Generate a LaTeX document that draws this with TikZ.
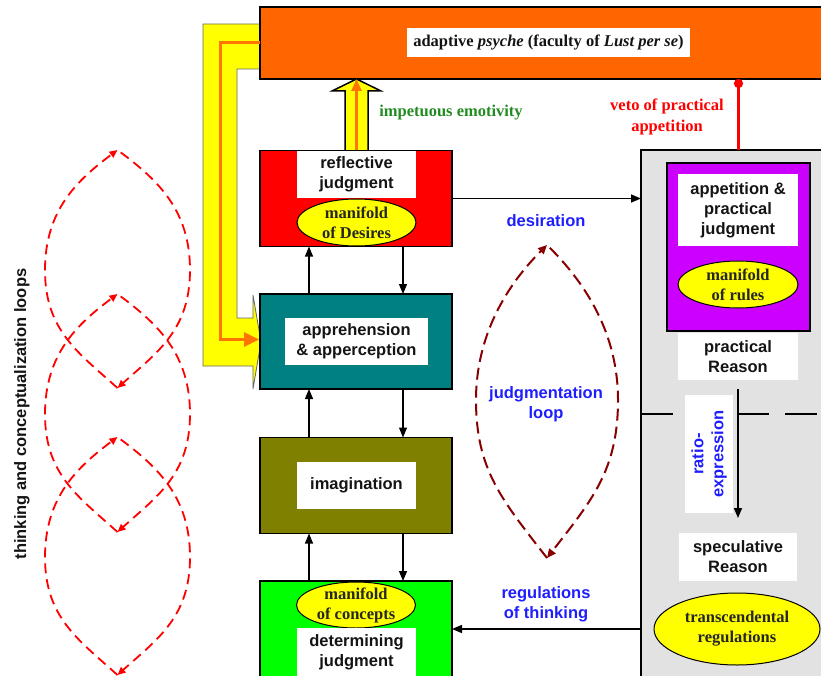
\documentclass[tikz,border=0pt]{standalone}
\usepackage{fontspec}
\setmainfont{Liberation Serif}
\setsansfont{Liberation Sans}
\usetikzlibrary{arrows.meta,shapes.geometric}
\definecolor{cOrange}{RGB}{255,102,0}
\definecolor{cYellow}{RGB}{255,255,0}
\definecolor{cRed}{RGB}{255,0,0}
\definecolor{cTeal}{RGB}{0,128,128}
\definecolor{cOlive}{RGB}{128,128,0}
\definecolor{cGreen}{RGB}{0,255,0}
\definecolor{cPurple}{RGB}{204,0,255}
\definecolor{cGray}{RGB}{226,226,226}
\definecolor{cBlue}{RGB}{30,30,255}
\definecolor{cDark}{RGB}{136,0,0}
\definecolor{cGreenTxt}{RGB}{34,139,34}
\definecolor{cTxt}{RGB}{20,20,20}
\begin{document}
\begin{tikzpicture}[x=1pt,y=-1pt,
  every node/.style={inner sep=0pt,outer sep=0pt},
  sq/.style={rectangle,draw=black,line width=1.5pt},
  lbl/.style={rectangle,fill=white,align=center,text=cTxt,
    font=\sffamily\bfseries\fontsize{16.5}{20}\selectfont},
  ell/.style={ellipse,draw=black,line width=1pt,fill=cYellow,align=center,
    inner xsep=0pt,inner ysep=-6pt,text=black!85,
    font=\rmfamily\bfseries\fontsize{16.5}{20}\selectfont},
  bluetxt/.style={align=center,text=cBlue,font=\sffamily\bfseries\fontsize{16.5}{20}\selectfont},
  arr/.style={-{Triangle[length=10pt,width=8pt]},line width=1.2pt,draw=black},
  redloop/.style={draw=cRed,line width=1.8pt,dash pattern=on 10pt off 6pt,
    -{Triangle[length=8pt,width=7pt]}},
  darkloop/.style={draw=cDark,line width=2pt,dash pattern=on 12pt off 6pt,
    -{Triangle[length=9pt,width=8pt]}}
]
\useasboundingbox (0,0) rectangle (821,676);
\clip (0,0) rectangle (821,676);

% left loops
\foreach \t in {150,294,437} {
  \draw[redloop] (117.5,\t+238) .. controls (77.5,\t+202) and (45,\t+180) .. (45,\t+120)
     .. controls (45,\t+60) and (77.5,\t+30) .. (117.5,\t);
  \draw[redloop,shorten <=4pt] (117.5,\t) .. controls (157.5,\t+30) and (190,\t+60) .. (190,\t+120)
     .. controls (190,\t+180) and (157.5,\t+202) .. (117.5,\t+238);
}
\node[rotate=90,text=cTxt,font=\sffamily\bfseries\fontsize{16.5}{20}\selectfont] (loopstxt) at (22,414) {thinking and conceptualization loops};

% big yellow L arrow
\draw[fill=cYellow,draw=black!60,line width=0.8pt]
  (262,24) -- (203,24) -- (203,366) -- (253,366) -- (253,389) -- (261,342)
  -- (253,295) -- (253,318) -- (237,318) -- (237,69) -- (262,69);

% orange psyche box
\node[sq,fill=cOrange,minimum width=570pt,minimum height=72pt,line width=2pt] (psyche) at (545,43) {};
\node[rectangle,fill=white,minimum width=283pt,minimum height=29pt,text=cTxt,
  font=\rmfamily\bfseries\fontsize{16.5}{20}\selectfont] (psychetxt) at (548.5,42.5)
  {adaptive \textit{psyche} (faculty of \textit{Lust per se})};

% gray reason box
\node[sq,fill=cGray,minimum width=189pt,minimum height=540pt,line width=1.5pt] (gray) at (735.5,420) {};

% left column boxes
\node[sq,fill=cRed,minimum width=192pt,minimum height=96pt] (refl) at (356,198.5) {};
\node[lbl,minimum width=119pt,minimum height=47pt] (refltxt) at (356.5,174.5) {reflective\\judgment};
\node[ell,minimum width=119pt,minimum height=47pt] (desires) at (356.5,222.5) {manifold\\of Desires};

\node[sq,fill=cTeal,minimum width=192pt,minimum height=95pt] (appr) at (356,341.5) {};
\node[lbl,minimum width=143pt,minimum height=47pt] (apprtxt) at (356.5,341.5) {apprehension\\\& apperception};

\node[sq,fill=cOlive,minimum width=192pt,minimum height=96pt] (imag) at (356,485.5) {};
\node[lbl,minimum width=119pt,minimum height=47pt] (imagtxt) at (356.5,485.5) {imagination};

\node[sq,fill=cGreen,minimum width=192pt,minimum height=96pt] (det) at (356,629) {};
\node[ell,minimum width=119pt,minimum height=46pt] (concepts) at (356,605) {manifold\\of concepts};
\node[lbl,minimum width=119pt,minimum height=48pt] (dettxt) at (356.5,652) {determining\\judgment};

% right column
\node[sq,fill=cPurple,minimum width=143pt,minimum height=168pt] (purple) at (738.5,247) {};
\node[lbl,minimum width=120pt,minimum height=72pt] (apptxt) at (738,210) {appetition \&\\practical\\judgment};
\node[ell,minimum width=120pt,minimum height=47pt] (rules) at (738,284.5) {manifold\\of rules};
\node[lbl,minimum width=120pt,minimum height=47pt] (prR) at (738,356.5) {practical\\Reason};

\coordinate (dl) at (641,414);
\draw[line width=1.8pt,dash pattern=on 32pt off 16pt] (dl) -- (dl -| 830,0);

\node[lbl,minimum width=48pt,minimum height=118pt] (ratiobox) at (709,454) {};
\node[bluetxt,rotate=90] (ratiotxt) at (709,454) {ratio-\\expression};
\node[lbl,minimum width=118pt,minimum height=48pt] (spR) at (738,557) {speculative\\Reason};
\node[ell,minimum width=166pt,minimum height=72pt] (transc) at (737,629) {transcendental\\regulations};

\draw[arr,line width=1.5pt,shorten <=9pt,shorten >=15pt] (prR.south) -- (spR.north);

% vertical yellow arrow
\draw[fill=cYellow,draw=black,line width=1.5pt]
  (345,150) -- (345,91) -- (332,91) -- (356.5,79) -- (381,91) -- (368,91) -- (368,150);
\draw[cOrange!90!yellow,line width=2.5pt,-{Triangle[length=12pt,width=10pt]}]
  ([xshift=0.5pt]refl.north) -- ([xshift=0.5pt]refl.north |- psyche.south);

% orange line in L arrow
\draw[cOrange!90!yellow,line width=3pt,-{Triangle[length=15pt,width=14pt]}]
  (psyche.west) -- ++(-40,0) |- ([xshift=-1pt,yshift=2pt]appr.west);

% veto
\draw[cRed,line width=3pt,{Circle[length=9pt]}-]
  (purple.north |- psyche.south) -- (purple.north |- gray.north);
\node[align=center,text=cRed,font=\rmfamily\bfseries\fontsize{16.5}{21}\selectfont] (vetotxt) at (667,116.5) {veto of practical\\appetition};
\node[text=cGreenTxt,font=\rmfamily\bfseries\fontsize{16.5}{20}\selectfont] (impettxt) at (451,113) {impetuous emotivity};

% vertical arrows between boxes
\draw[arr] ([xshift=-47pt]appr.north) -- ([xshift=-47pt]refl.south);
\draw[arr] ([xshift=47pt]refl.south) -- ([xshift=47pt]appr.north);
\draw[arr] ([xshift=-47pt]imag.north) -- ([xshift=-47pt]appr.south);
\draw[arr] ([xshift=47pt]appr.south) -- ([xshift=47pt]imag.north);
\draw[arr] ([xshift=-47pt]det.north) -- ([xshift=-47pt]imag.south);
\draw[arr] ([xshift=47pt]imag.south) -- ([xshift=47pt]det.north);

% horizontal arrows
\draw[arr,line width=1.5pt] (refl.east) -- (refl.east -| gray.west);
\draw[arr,line width=1.5pt] (det.east -| gray.west) -- (det.east);
\node[bluetxt] (desir) at (546,221) {desiration};
\node[bluetxt] (regul) at (546,604) {regulations\\of thinking};

% judgmentation loop
\draw[darkloop] (547,558) .. controls (502,500) and (476,470) .. (476,400)
   .. controls (476,335) and (507,285) .. (547,245);
\draw[darkloop,shorten <=4pt] (547,245) .. controls (587,285) and (618,335) .. (618,400)
   .. controls (618,470) and (592,500) .. (547,558);
\node[bluetxt] (judgtxt) at (546,404) {judgmentation\\loop};

\end{tikzpicture}
\end{document}
